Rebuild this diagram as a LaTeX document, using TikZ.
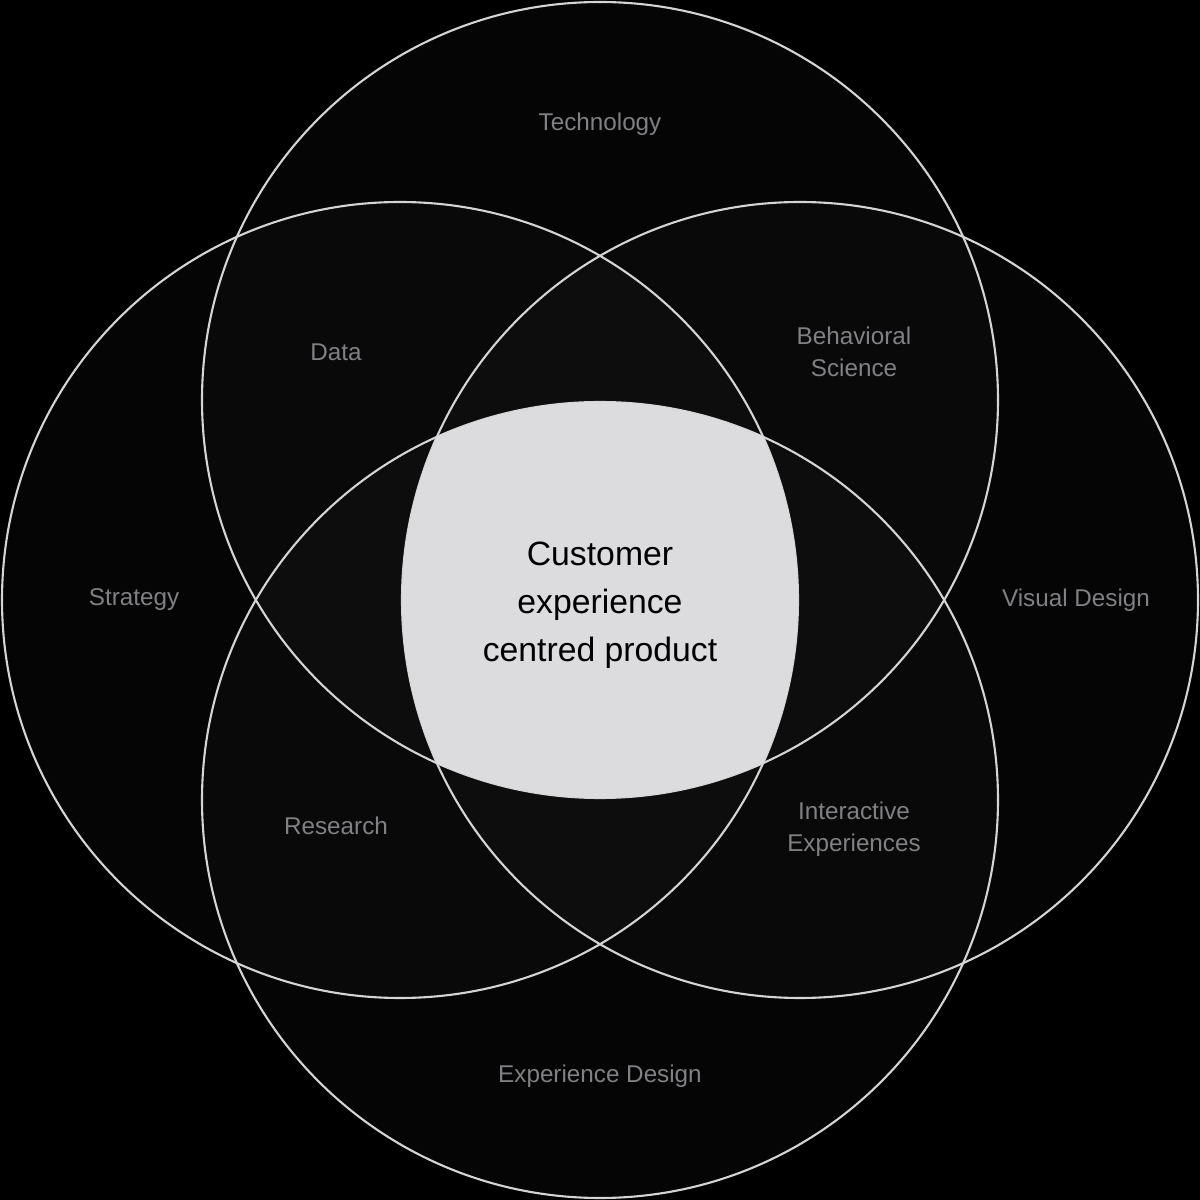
\documentclass[tikz,border=0pt]{standalone}
\usepackage{fontspec}
\setmainfont{Liberation Sans}
\definecolor{ringline}{HTML}{D4D4D6}
\definecolor{labelgray}{HTML}{808085}
\definecolor{corefill}{HTML}{DCDCDF}

\begin{document}
\begin{tikzpicture}[
  ring/.style={draw=ringline,line width=0.6pt,fill=white,fill opacity=0.02},
  area/.style={text=labelgray,font=\fontsize{6.9}{9.2}\selectfont,align=center},
  core/.style={text=black,font=\fontsize{9.6}{13.6}\selectfont,align=center}]
\fill[black] (0,0) rectangle (12,12);
\useasboundingbox (0,0) rectangle (12,12);

% the four rings
\draw[ring] (6,8) circle (3.98);
\draw[ring] (4,6) circle (3.98);
\draw[ring] (8,6) circle (3.98);
\draw[ring] (6,4) circle (3.98);

% common core of all four
\begin{scope}
\clip (6,8) circle (3.98);
\clip (4,6) circle (3.98);
\clip (8,6) circle (3.98);
\fill[corefill] (6,4) circle (3.98);
\end{scope}

\node[area] (tech) at (6,10.76) {Technology};
\node[area] (data) at (3.36,8.48) {Data};
\node[area] (behav) at (8.54,8.48) {Behavioral\\Science};
\node[area] (strat) at (1.34,6) {Strategy};
\node[area] (visual) at (10.76,6) {Visual Design};
\node[area] (research) at (3.36,3.74) {Research};
\node[area] (inter) at (8.54,3.71) {Interactive\\Experiences};
\node[area] (expdes) at (6,1.24) {Experience Design};
\node[core] (centre) at (6,5.95) {Customer\\experience\\centred product};
\end{tikzpicture}
\end{document}
